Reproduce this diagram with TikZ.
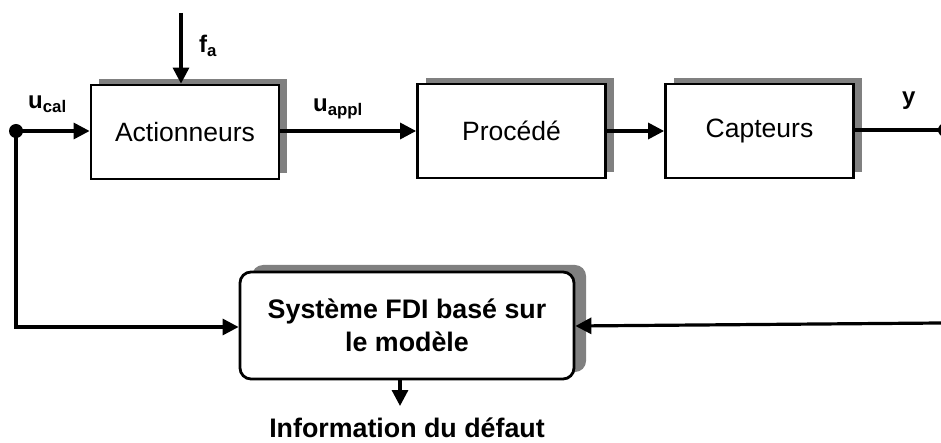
\documentclass[tikz,border=0pt]{standalone}
\usepackage{fontspec}
\setmainfont{Liberation Sans}
\usetikzlibrary{arrows.meta,shadows}
\begin{document}
\begin{tikzpicture}[x=1pt,y=-1pt,
  blk/.style={draw=black,line width=2.8pt,fill=white,minimum width=188pt,minimum height=94pt,inner sep=0pt,
    font=\fontsize{26.5}{30}\selectfont,
    general shadow={fill=black!50,shadow xshift=8pt,shadow yshift=6pt}},
  fdi/.style={draw=black,line width=2.8pt,fill=white,rounded corners=11pt,minimum width=334pt,minimum height=107pt,inner sep=0pt,
    align=center,font=\fontsize{26.8}{33}\selectfont\bfseries,
    general shadow={fill=black!50,shadow xshift=12pt,shadow yshift=7pt,rounded corners=11pt}},
  lbl/.style={inner sep=0pt,anchor=base west,font=\fontsize{24}{28}\selectfont\bfseries},
  wire/.style={line width=3.2pt},
  arr/.style={wire,-{Triangle[length=16pt,width=16pt]}},
  dot/.style={circle,fill=black,inner sep=0pt,minimum size=14pt}
]
\useasboundingbox (0,0) rectangle (941,443);
\node[blk] (act) at (185,132) {Actionneurs};
\node[blk] (proc) at (511.5,131) {Procédé};
\node[blk] (capt) at (759.5,131) {Capteurs};
\node[fdi] (fdi) at (407,325.5) {Système FDI basé sur\\le modèle};
\node[dot] (din) at (16,131) {};
\node[dot] (dout) at (945,130) {};
\coordinate (ftop) at (181,13);
\coordinate (corner) at (16,327);
\coordinate (rin) at (941,323);
\node[inner sep=0pt,font=\fontsize{26.8}{30}\selectfont\bfseries] (info) at (407,428) {Information du défaut};
\draw[arr] (ftop) -- (act.north -| ftop);
\draw[arr] (din.center) -- (act.west |- din);
\draw[arr] (act.east |- 0,131) -- (proc.west |- 0,131);
\draw[arr] (proc.east |- 0,131) -- (capt.west |- 0,131);
\draw[wire] (capt.east |- 0,130) -- (dout.center);
\draw[arr] (din.center) -- (corner) -- (fdi.west |- corner);
\draw[arr] (rin) -- (fdi.east |- 0,326);
\draw[arr] (fdi.south -| 400,0) -- (400,406);
\node[lbl] (fa) at (199,53) {f\textsubscript{a}};
\node[lbl] (ucal) at (28,109) {u\textsubscript{cal}};
\node[lbl] (uappl) at (313,112) {u\textsubscript{appl}};
\node[lbl] (ylab) at (902,105) {y};
\end{tikzpicture}
\end{document}
